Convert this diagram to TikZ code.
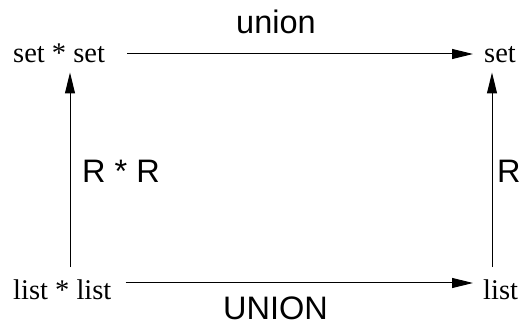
\documentclass[tikz,border=0pt]{standalone}
\usepackage{fontspec}
\setmainfont{Liberation Serif}
\newfontfamily\lblfont{Liberation Sans}
\usetikzlibrary{arrows.meta}
\begin{document}
\begin{tikzpicture}[x=1pt,y=1pt,
  obj/.style={inner sep=0pt,anchor=base west,font=\fontsize{28.5}{30}\selectfont},
  lbl/.style={inner sep=0pt,anchor=base west,font=\lblfont\fontsize{32.5}{34}\selectfont},
  arr/.style={line width=1pt,-{Triangle[length=21pt,width=10pt]}}]
\useasboundingbox (0,0) rectangle (521,326);
\node[obj] (sl) at (13,263) {set * set};
\node[obj] (sr) at (484,263) {set};
\node[obj] (ll) at (13,26) {list * list};
\node[obj] (lr) at (483,26) {list};
\node[lbl] (un) at (236,292) {union};
\node[lbl] (UN) at (223,6) {UNION};
\node[lbl] (rr) at (82,143) {R * R};
\node[lbl] (r) at (497,143) {R};
\draw[arr] ([shift={(22pt,9pt)}]sl.base east) -- ([shift={(-11pt,9pt)}]sr.base west);
\draw[arr] ([shift={(14pt,17pt)}]ll.base east) -- ([shift={(-10pt,17pt)}]lr.base west);
\draw[arr] ([shift={(57pt,13pt)}]ll.north west) -- ([shift={(57pt,-9pt)}]sl.south west);
\draw[arr] ([shift={(9pt,13pt)}]lr.north west) -- ([shift={(9pt,-9pt)}]lr.north west |- sr.south west);
\end{tikzpicture}
\end{document}
